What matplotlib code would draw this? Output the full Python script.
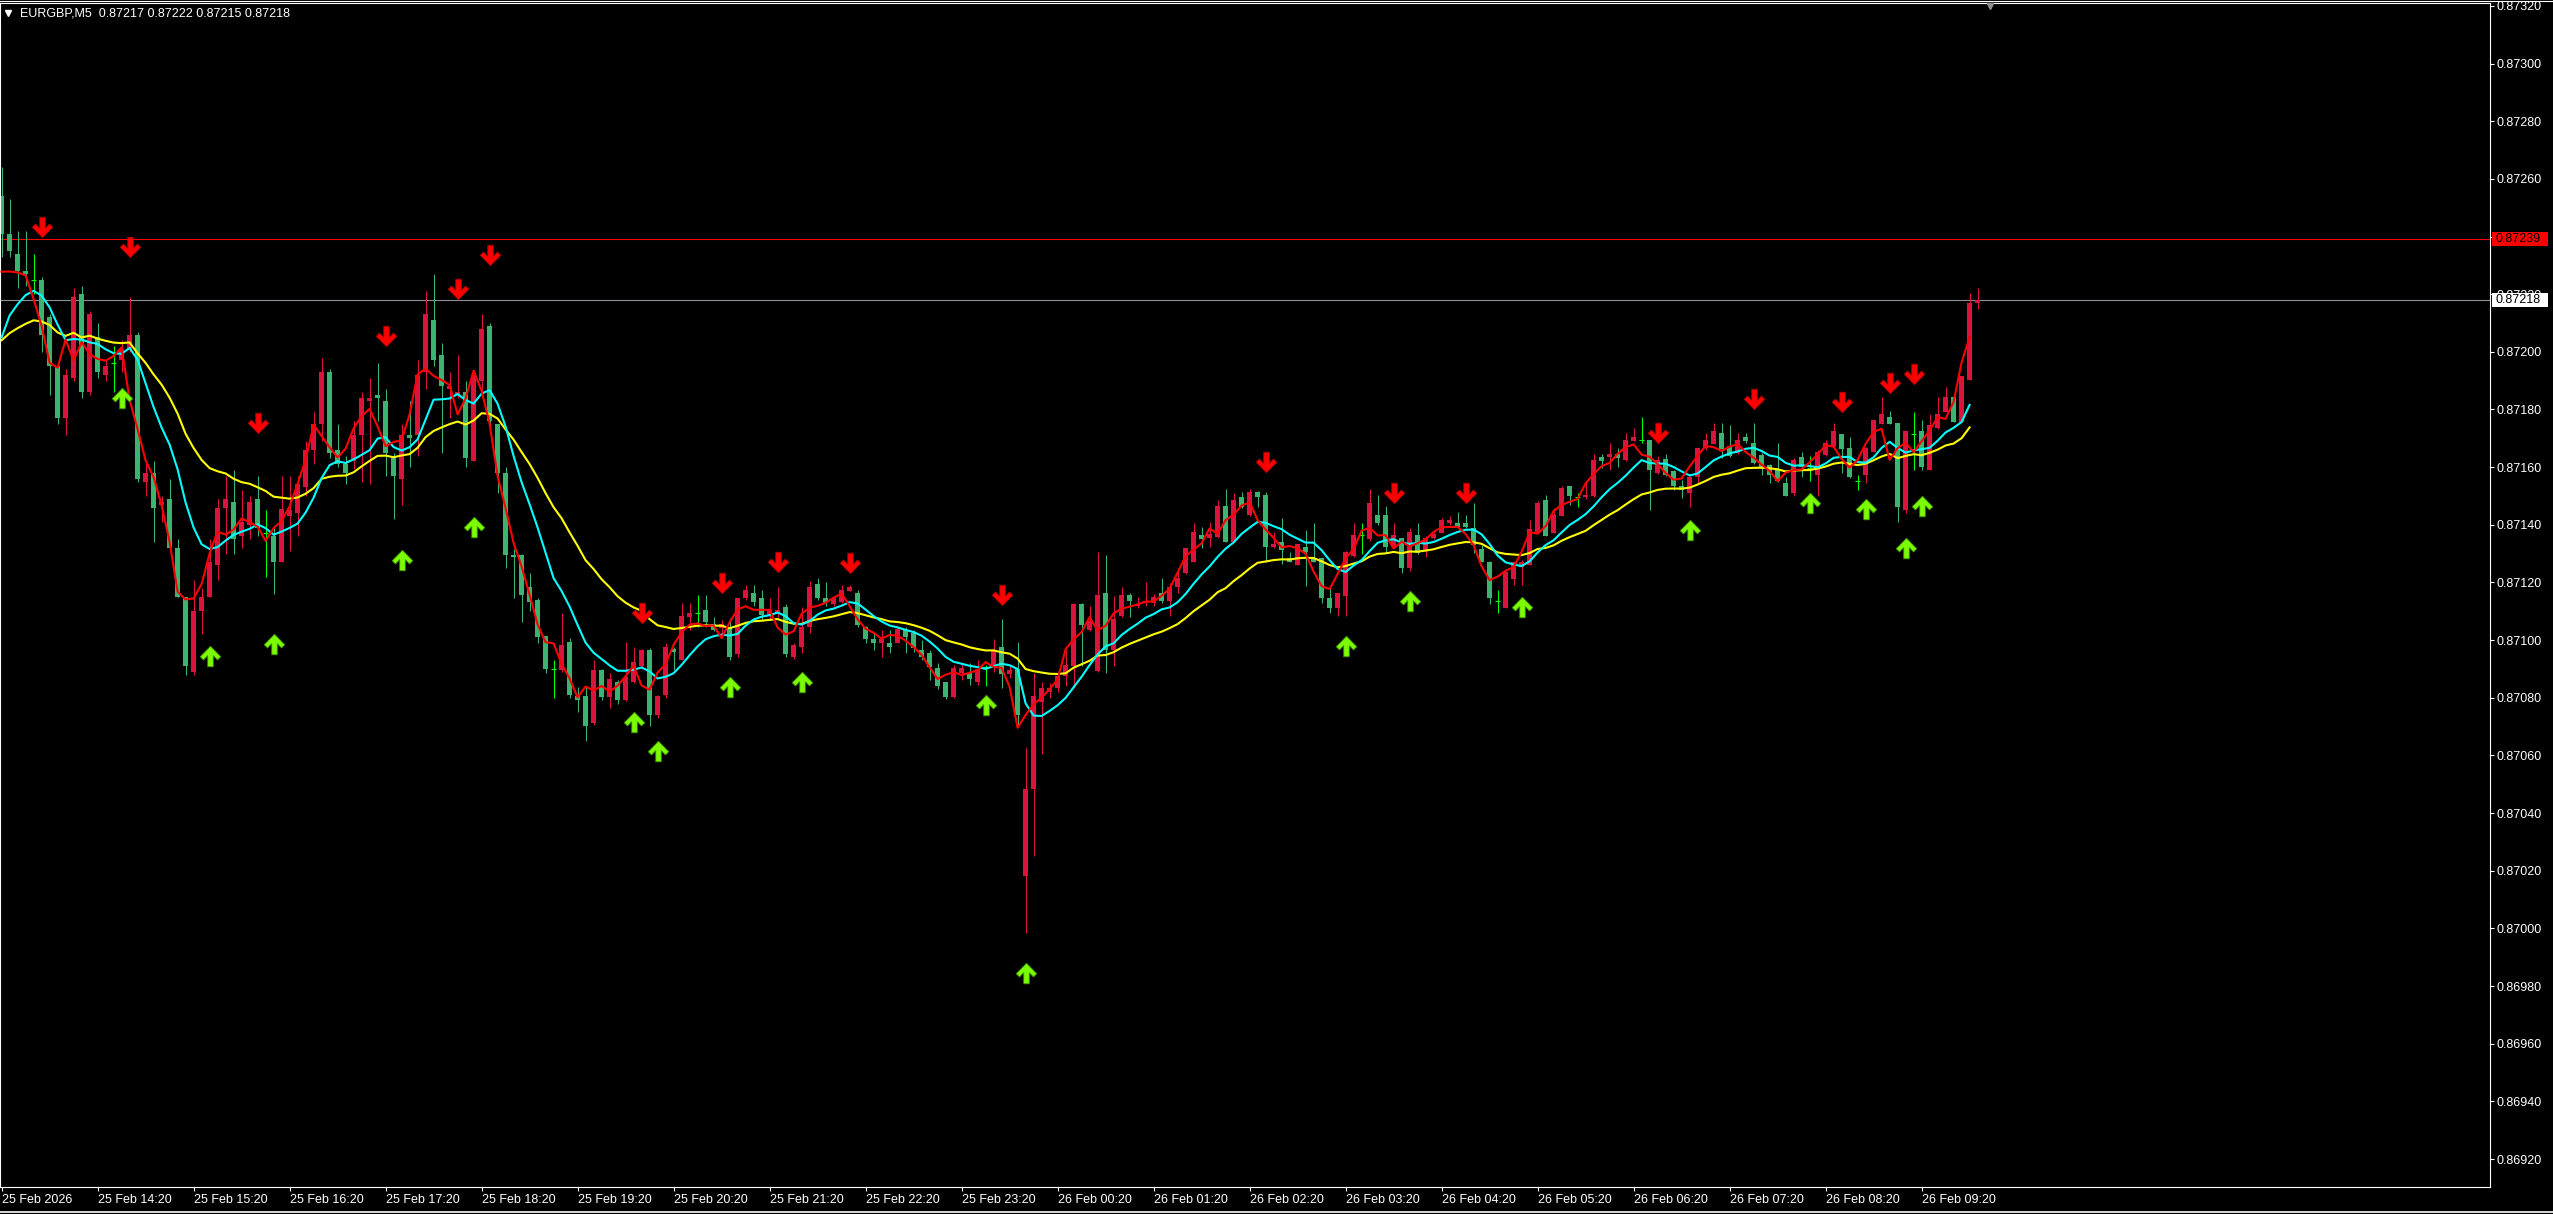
import numpy as np
import pandas as pd
import matplotlib
matplotlib.use("Agg")
import matplotlib.pyplot as plt
from matplotlib.path import Path
from matplotlib.lines import Line2D
from matplotlib.patches import Rectangle

# EURGBP M5, first bar 25 Feb 13:20; prices in points (x 1e-5)
first_bar = "2026-02-25 13:20"

opens = [
    87254, 87241, 87234, 87228, 87225, 87225, 87212, 87195, 87177, 87191,
    87220, 87186, 87205, 87192, 87196, 87197, 87201, 87206, 87155, 87158,
    87147, 87149, 87132, 87115, 87089, 87110, 87115, 87126, 87146, 87148,
    87136, 87140, 87149, 87137, 87136, 87127, 87143, 87144, 87153, 87166,
    87175, 87193, 87166, 87161, 87162, 87171, 87183, 87185, 87183, 87163,
    87156, 87171, 87171, 87193, 87211, 87199, 87187, 87185, 87186, 87162,
    87190, 87209, 87175, 87158, 87129.5, 87129.5, 87118.5, 87114, 87101.4, 87090,
    87089.6, 87099.5, 87080.6, 87080.7, 87071.4, 87089.6, 87080.4, 87085.5, 87079.2, 87085.3,
    87091, 87096.6, 87074, 87081, 87097, 87093, 87108, 87109.3, 87110.5, 87105.5,
    87104.1, 87104.7, 87095.2, 87114.5, 87116.5, 87114.5, 87108.7, 87108.9, 87111.4, 87094,
    87097.5, 87104.7, 87119.5, 87114.5, 87112.5, 87113.3, 87117.2, 87116.2, 87104.7, 87100.4,
    87099.1, 87099.1, 87099.1, 87103.5, 87102.4, 87096.6, 87095.7, 87090.2, 87085.5, 87080.4,
    87088.7, 87088.5, 87085.3, 87090.8, 87090.6, 87097.5, 87088.3, 87090, 87018.2, 87048.3,
    87078.4, 87082, 87083.3, 87087.4, 87091, 87112.6, 87103.6, 87089.4, 87116.5, 87096.6,
    87108.2, 87115.7, 87112, 87112.8, 87113, 87116.3, 87113.4, 87118.4, 87123.4, 87127.2,
    87136.4, 87135.3, 87135.9, 87146.5, 87134.2, 87149.8, 87143.4, 87151.5, 87150.4, 87132.4,
    87134.2, 87128.4, 87126.1, 87132.4, 87128.4, 87128.4, 87114.5, 87111.1, 87115.3, 87129.2,
    87136.4, 87135, 87143.4, 87143.4, 87132.4, 87135.3, 87124.9, 87136.5, 87131.3, 87135.3,
    87137.3, 87140.5, 87140.5, 87140.5, 87138.8, 87131.5, 87127.2, 87113.7, 87111.1, 87121.1,
    87125.4, 87126.1, 87137.3, 87148.6, 87137.3, 87143.1, 87153.5, 87149.6, 87149.6, 87150,
    87163.4, 87163.4, 87164.6, 87162.5, 87169.2, 87169.4, 87169.4, 87158.1, 87162.7, 87158.5,
    87153.5, 87151.2, 87156.7, 87166.5, 87168.1, 87171.8, 87167.4, 87164.8, 87170.6, 87168.5,
    87164.2, 87160.8, 87159, 87154.4, 87151.2, 87163.4, 87159.6, 87157.3, 87164.2, 87167.1,
    87171.5, 87166.5, 87155.3, 87157.3, 87165.4, 87175, 87177.5, 87175.2, 87145.2, 87171.4,
    87172.6, 87159, 87173.5, 87179.3, 87184.5, 87175.8, 87190.3, 87217,
]
highs = [
    87264, 87253, 87242, 87242, 87234, 87226, 87213, 87196, 87194, 87222,
    87223, 87214, 87210, 87197, 87202, 87204, 87219, 87207, 87162, 87162,
    87150, 87156, 87135, 87115, 87121, 87118, 87135, 87149, 87157, 87159,
    87152, 87150, 87157, 87145, 87139, 87157, 87157, 87157, 87169, 87179,
    87198, 87194, 87175, 87164, 87176, 87186, 87191, 87196, 87187, 87165,
    87175, 87183, 87197, 87221, 87227, 87203, 87193, 87199, 87190, 87192,
    87213, 87210, 87175, 87160, 87131.5, 87130, 87123.4, 87114.5, 87101.5, 87093,
    87109.3, 87100.6, 87083.9, 87083.9, 87093.1, 87090, 87088.5, 87086, 87099.5, 87097.7,
    87097, 87097.2, 87081, 87098.9, 87097.5, 87112.8, 87112.8, 87115.7, 87115.7, 87108.1,
    87107, 87107.6, 87114.5, 87119.1, 87119.1, 87117.4, 87114.5, 87118.3, 87112.5, 87098.9,
    87111.4, 87120.6, 87121.4, 87120.3, 87115, 87119.1, 87119, 87117.4, 87105, 87102.4,
    87103.5, 87103.5, 87104.7, 87104.7, 87103.5, 87100, 87096.6, 87092, 87085.5, 87091.4,
    87092, 87092, 87093.1, 87091.4, 87100.3, 87107.4, 87091, 87099.3, 87062.5, 87088.5,
    87085.6, 87085, 87088.5, 87096.6, 87113, 87113, 87112, 87130.7, 87129.6, 87115.3,
    87118.5, 87116.5, 87115, 87120.3, 87116, 87121.5, 87119.7, 87124.4, 87132, 87140.5,
    87139.4, 87141.1, 87148.6, 87152.3, 87150.9, 87151.5, 87152.3, 87151.8, 87151.5, 87137.6,
    87142.3, 87130.7, 87133.5, 87138.2, 87140.5, 87128.5, 87118.6, 87116.5, 87131, 87140.5,
    87140.5, 87152.3, 87150.4, 87146.5, 87140.5, 87135.5, 87138.8, 87140.5, 87136, 87137.5,
    87142.3, 87143.1, 87144.6, 87143.4, 87147.5, 87133, 87127.5, 87117.4, 87124, 87127.5,
    87127.8, 87141.7, 87148.4, 87150.4, 87145.8, 87153.3, 87153.6, 87151.2, 87154.4, 87164.6,
    87164.6, 87168.3, 87166.5, 87171.8, 87173.5, 87177.3, 87169.5, 87163.7, 87164.6, 87159,
    87155.6, 87156.8, 87166.6, 87171.8, 87175.2, 87175.2, 87174.6, 87171.8, 87171.8, 87175.2,
    87165, 87161, 87168.3, 87156.7, 87163.1, 87165.4, 87163.7, 87166, 87169.4, 87175.2,
    87171.6, 87170.4, 87157.3, 87167.1, 87176.5, 87184.5, 87179.6, 87175.3, 87172.7, 87179.3,
    87176.4, 87178.5, 87184.5, 87187.7, 87184.6, 87191.7, 87220.5, 87222,
]
lows = [
    87233, 87233, 87222, 87223, 87220, 87200, 87185, 87175, 87171, 87190,
    87184, 87185, 87191, 87190, 87186, 87193, 87200, 87155, 87150, 87134,
    87141, 87132, 87115, 87088, 87088, 87102, 87115, 87121, 87130, 87130,
    87132, 87135, 87136, 87122, 87116, 87127, 87131, 87136, 87150, 87161,
    87169, 87163, 87160, 87154, 87159.5, 87155, 87154, 87176, 87157, 87142,
    87147, 87160, 87164, 87187, 87195, 87165, 87177, 87184, 87160, 87162,
    87186, 87173, 87151, 87125, 87114.5, 87106.4, 87110, 87099, 87088.5, 87080,
    87089, 87079.8, 87075.2, 87065.1, 87070.6, 87079.2, 87076.4, 87078, 87079, 87085,
    87090, 87070.2, 87073, 87080, 87089.6, 87093, 87103.5, 87104.7, 87104.7, 87103,
    87101.2, 87093.1, 87094.3, 87113.9, 87112, 87107, 87107, 87108, 87094.3, 87093.3,
    87095.4, 87102.4, 87114, 87112, 87112, 87113, 87117, 87104.7, 87099, 87096.4,
    87094.3, 87095.4, 87099, 87095.4, 87096, 87093, 87086.2, 87083, 87079.5, 87080,
    87086.2, 87084.4, 87084.4, 87084.1, 87089, 87083.3, 87087, 87070.3, 86998.4, 87025.2,
    87060.5, 87080, 87082, 87084, 87083.3, 87091, 87103, 87089, 87088.5, 87091,
    87108, 87108, 87111, 87112, 87112, 87113, 87108.2, 87116.3, 87123, 87127,
    87131.9, 87132.4, 87135.5, 87134, 87134, 87146, 87143, 87146.3, 87127.2, 87132,
    87126.4, 87127, 87126, 87118.6, 87127, 87112.8, 87109.3, 87108.2, 87108.2, 87129,
    87130, 87134.5, 87140, 87130.1, 87132, 87123.4, 87124, 87130, 87129, 87135,
    87137, 87140, 87139, 87139, 87130.1, 87127, 87112.6, 87109.3, 87111, 87119.1,
    87119.1, 87126, 87137, 87136, 87137, 87143, 87146.9, 87146.3, 87149, 87149.8,
    87159.6, 87159, 87160, 87162, 87169, 87168.3, 87145.2, 87157.5, 87157, 87152.1,
    87149.2, 87146.3, 87154.4, 87166, 87168, 87163.1, 87163.5, 87164.5, 87168.3, 87161,
    87157.3, 87154.4, 87155, 87150, 87150, 87156.7, 87155.3, 87150, 87164, 87167,
    87158.1, 87156.3, 87152.1, 87154.4, 87165.3, 87174.8, 87174.9, 87141.1, 87144.2, 87159,
    87159, 87158.9, 87173.4, 87179.2, 87175.7, 87175.7, 87190.2, 87215,
]
closes = [
    87241, 87235, 87228, 87227, 87225, 87206, 87195, 87177, 87192, 87219,
    87186, 87213, 87193, 87195, 87196, 87201, 87206, 87156, 87158, 87146,
    87148, 87132, 87115, 87091, 87110, 87115, 87127, 87146, 87149, 87135,
    87141, 87148, 87139, 87137, 87127, 87145.5, 87145, 87154, 87166, 87175,
    87193, 87165, 87161, 87158, 87171, 87184, 87184, 87184, 87165, 87157,
    87171, 87170, 87192, 87213, 87197, 87188, 87188, 87186, 87163, 87192,
    87208, 87176, 87158, 87129.5, 87129, 87115.7, 87113.3, 87101, 87090, 87090,
    87098.3, 87081, 87079.2, 87070.2, 87089.6, 87080.4, 87086.5, 87079.2, 87087.3, 87092.4,
    87096.6, 87074, 87080.6, 87097.7, 87096, 87108.4, 87109.3, 87109.3, 87106.4, 87103.5,
    87105.5, 87094, 87114.5, 87117.4, 87113.3, 87108.7, 87110.5, 87110.5, 87095.2, 87098.3,
    87104.7, 87118.3, 87114.5, 87112.8, 87114.5, 87117.4, 87118.3, 87105.3, 87100.3, 87099.1,
    87100.4, 87097.5, 87103.7, 87101.2, 87097.2, 87094.3, 87090.8, 87084.1, 87080.4, 87090.2,
    87090.2, 87086.4, 87089.9, 87090.8, 87096.6, 87088.3, 87089.7, 87074, 87048.3, 87080.7,
    87083.3, 87083.5, 87087.4, 87091.4, 87112.6, 87105.3, 87106.7, 87115.7, 87096.6, 87107.3,
    87115.7, 87113.4, 87112.6, 87113.6, 87114.8, 87113.4, 87118.4, 87121.5, 87131.9, 87137.4,
    87135.1, 87136.7, 87146.5, 87134.2, 87148.6, 87146.3, 87151.5, 87149.5, 87132.4, 87133.4,
    87131.1, 87127.2, 87133.3, 87130.7, 87127.2, 87114.5, 87111.1, 87116.2, 87130.7, 87136.5,
    87136.4, 87147.5, 87140.5, 87132.4, 87136.5, 87124.9, 87137.6, 87130.1, 87135.3, 87136.8,
    87141.5, 87141.5, 87139.4, 87139.4, 87133, 87127.2, 87114.5, 87113.7, 87123.8, 87127.2,
    87127.1, 87138.6, 87147.7, 87136.1, 87143.4, 87152.7, 87150, 87149.6, 87150.4, 87162.5,
    87162.3, 87164.6, 87163.1, 87169.4, 87170.4, 87169.4, 87159, 87162.5, 87157.3, 87153.3,
    87152.1, 87156.7, 87166.5, 87169.4, 87172.6, 87166.2, 87163.7, 87169.4, 87169.2, 87161.3,
    87160.2, 87157.3, 87155.3, 87150, 87162.5, 87160.2, 87159.6, 87165.4, 87168.3, 87172.6,
    87166.2, 87156.5, 87155.3, 87166.5, 87176.4, 87178.5, 87175, 87146.3, 87172.6, 87171.4,
    87160.2, 87174.6, 87178.5, 87184.2, 87175.8, 87191.6, 87216.8, 87218,
]

# moving average values at the first bar
ma_fast_seed = 87223
ma_mid_seed = 87205
ma_slow_seed = 87204

# signal arrows (bar index, price of arrow centre)
sell_bars = [5, 16, 32, 48, 57, 61, 80, 90, 97, 106, 125, 158, 174, 183, 207, 219, 230, 236, 239]
sell_prices = [87243.3, 87236.2, 87175.4, 87205.4, 87221.9, 87233.5, 87109.3, 87119.7, 87127.2,
               87126.6, 87115.7, 87161.9, 87151.2, 87151.0, 87172.0, 87183.5, 87182.7, 87189.3, 87192.3]
buy_bars = [15, 26, 34, 50, 59, 79, 82, 91, 100, 123, 128, 168, 176, 190, 211, 226, 233, 238, 240]
buy_prices = [87184.0, 87094.4, 87098.7, 87127.9, 87139.4, 87071.7, 87061.7, 87083.9, 87085.6,
              87077.5, 86984.5, 87097.8, 87113.4, 87111.4, 87138.2, 87147.5, 87145.4, 87131.9, 87146.6]

alert_level = 0.87239
bid_level = 0.87218
header = "EURGBP,M5  0.87217 0.87222 0.87215 0.87218"

W, H = 2553, 1214


def ema(values, period, seed):
    alpha = 2.0 / (period + 1)
    out = [seed]
    for v in values[1:]:
        out.append(out[-1] + alpha * (v - out[-1]))
    return np.array(out)


def arrow_path(up):
    pts = [(0, -1), (1, 0.02), (0.68, 0.34), (0.27, -0.08), (0.27, 1), (-0.27, 1),
           (-0.27, -0.08), (-0.68, 0.34), (-1, 0.02), (0, -1)]
    if up:
        pts = [(x, -y) for x, y in pts]
    return Path(pts, closed=True)


def main():
    plt.rcParams['font.family'] = ['Liberation Sans', 'DejaVu Sans']

    o = np.array(opens) / 1e5
    h = np.array(highs) / 1e5
    l = np.array(lows) / 1e5
    c = np.array(closes) / 1e5
    n = len(c)
    idx = np.arange(n)
    times = pd.date_range(first_bar, periods=n, freq="5min")

    fig = plt.figure(figsize=(W / 100, H / 100), dpi=100, facecolor="black")
    ax = fig.add_axes([0, 1 - 1187 / H, 2490 / W, 1184 / H])
    ax.set_facecolor("black")
    ax.set_xlim(-0.2, 311.05)
    ax.set_ylim(0.869103, 0.873210)

    # candles: crimson = up, green = down, lime = doji
    up = c > o
    dn = c < o
    flat = c == o
    body_min = 0.0000035
    for mask, col in [(up, "#DC143C"), (dn, "#3CB371")]:
        ax.vlines(idx[mask], l[mask], h[mask], color=col, lw=0.8, zorder=2)
        ax.bar(idx[mask], np.maximum(np.abs(c - o)[mask], body_min), 0.62,
               bottom=np.minimum(o, c)[mask], color=col, lw=0, zorder=2)
    ax.vlines(idx[flat], l[flat], h[flat], color="#00FF00", lw=0.8, zorder=2)
    ax.hlines(c[flat], idx[flat] - 0.31, idx[flat] + 0.31, color="#00FF00", lw=0.8, zorder=2)

    # moving averages (not drawn on the forming bar)
    med = (h + l) / 2
    fast = ema(c, 4, ma_fast_seed / 1e5)
    mid = ema(med, 9, ma_mid_seed / 1e5)
    slow = ema(c, 24, ma_slow_seed / 1e5)
    ax.plot(idx[:-1], slow[:-1], color="#FFFF00", lw=1.5, zorder=3)
    ax.plot(idx[:-1], mid[:-1], color="#00FFFF", lw=1.5, zorder=4)
    ax.plot(idx[:-1], fast[1:], color="#FF0000", lw=1.5, zorder=5)

    # arrows
    ax.scatter(sell_bars, np.array(sell_prices) / 1e5, marker=arrow_path(False), s=220,
               c="#FF0000", edgecolors="#A00000", linewidths=0.6, zorder=6)
    ax.scatter(buy_bars, np.array(buy_prices) / 1e5, marker=arrow_path(True), s=220,
               c="#7CFC00", edgecolors="#3A8A00", linewidths=0.6, zorder=6)

    # horizontal levels
    ax.axhline(alert_level, color="#FF0000", lw=0.8, zorder=1)
    ax.axhline(bid_level, color="#8A8F98", lw=0.8, zorder=1)

    # axes
    for side in ["left", "top", "right", "bottom"]:
        ax.spines[side].set_color("white")
        ax.spines[side].set_linewidth(0.8)
    ax.yaxis.tick_right()
    yt = np.arange(86920, 87321, 20) / 1e5
    ax.set_yticks(yt)
    ax.set_yticklabels([f"{v:.5f}" for v in yt])
    xt = idx[::12]
    ax.set_xticks(xt)
    xl = [times[0].strftime("%d %b %Y")] + [times[i].strftime("%d %b %H:%M") for i in xt[1:]]
    ax.set_xticklabels(xl, ha="left")
    ax.tick_params(colors="white", labelsize=9, length=3, width=0.8, pad=2)

    # price labels on the scale
    fig.canvas.draw()
    for level, fc in [(alert_level, "#FF0000"), (bid_level, "white")]:
        ypx = ax.transData.transform((0, level))[1]
        fig.patches.append(Rectangle((2492 / W, (ypx - 7) / H), 56 / W, 14 / H,
                                     transform=fig.transFigure, fc=fc, ec="none", zorder=5))
        fig.text(2496 / W, ypx / H, f"{level:.5f}", color="black", fontsize=9,
                 va="center", ha="left", zorder=6)

    # header and frame details
    fig.add_artist(Line2D([8 / W], [1 - 13 / H], marker="v", color="white", markersize=5, lw=0))
    fig.text(20 / W, 1 - 14 / H, header, color="white", fontsize=9, va="center", ha="left")
    shift_x = ax.transData.transform((248.5, 0))[0]
    fig.add_artist(Line2D([shift_x / W], [1 - 6 / H], marker="v", color="#909090",
                          markersize=5, lw=0))
    fig.add_artist(Line2D([0, 1], [1 - 0.5 / H] * 2, color="white", lw=0.8))
    fig.add_artist(Line2D([0, 1], [1 - 1212 / H] * 2, color="white", lw=1.2))

    fig.savefig("out.png", dpi=100, facecolor="black")


if __name__ == "__main__":
    main()
